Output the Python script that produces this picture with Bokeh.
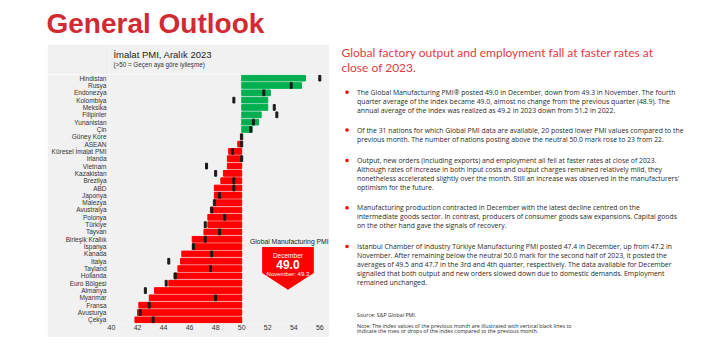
from bokeh.plotting import figure
from bokeh.models import Range1d, FixedTicker, Spacer, ColumnDataSource
from bokeh.layouts import column, row
from bokeh.embed import file_html
from bokeh.resources import INLINE
from bokeh.core.properties import value

# ---------------- data ----------------
countries = ["Hindistan", "Rusya", "Endonezya", "Kolombiya", "Meksika", "Filipinler",
             "Yunanistan", "Çin", "Güney Kore", "ASEAN", "Küresel İmalat PMI", "İrlanda",
             "Vietnam", "Kazakistan", "Brezilya", "ABD", "Japonya", "Malezya", "Avustralya",
             "Polonya", "Türkiye", "Tayvan", "Birleşik Krallık", "İspanya", "Kanada", "İtalya",
             "Tayland", "Hollanda", "Euro Bölgesi", "Almanya", "Myanmar", "Fransa",
             "Avusturya", "Çekya"]
pmi_dec_2023 = [54.9, 54.6, 52.2, 52.0, 52.0, 51.5, 51.3, 50.8, 49.9, 49.7, 49.0, 48.9,
                48.9, 48.6, 48.4, 47.9, 47.9, 47.9, 47.6, 47.4, 47.4, 47.1, 46.2, 46.2,
                45.4, 45.3, 45.1, 44.8, 44.4, 43.3, 42.9, 42.1, 42.0, 41.8]
pmi_nov_2023 = [56.0, 53.8, 51.7, 49.4, 52.5, 52.7, 50.9, 50.7, 50.0, 50.0, 49.3, 50.0,
                47.3, 48.0, 49.4, 49.4, 48.3, 47.9, 47.7, 48.7, 47.2, 48.3, 47.2, 46.3,
                47.7, 44.4, 47.6, 44.9, 44.2, 42.6, 48.0, 42.9, 42.2, 43.2]
x_ticks = [40, 42, 44, 46, 48, 50, 52, 54, 56]
neutral = 50.0
global_name = "Küresel İmalat PMI"

page_title = "General Outlook"
chart_title = "İmalat PMI, Aralık 2023"
chart_subtitle = "(>50 = Geçen aya göre iyileşme)"
heading_lines = ["Global factory output and employment fall at faster rates at",
                 "close of 2023."]
bullets = [
    ["The Global Manufacturing PMI® posted 49.0 in December, down from 49.3 in November. The fourth",
     "quarter average of the index became 49.0, almost no change from the previous quarter (48.9). The",
     "annual average of the index was realized as 49.2 in 2023 down from 51.2 in 2022."],
    ["Of the 31 nations for which Global PMI data are available, 20 posted lower PMI values compared to the",
     "previous month. The number of nations posting above the neutral 50.0 mark rose to 23 from 22."],
    ["Output, new orders (including exports) and employment all fell at faster rates at close of 2023.",
     "Although rates of increase in both input costs and output charges remained relatively mild, they",
     "nonetheless accelerated slightly over the month. Still an increase was observed in the manufacturers'",
     "optimism for the future."],
    ["Manufacturing production contracted in December with the latest decline centred on the",
     "intermediate goods sector. In contrast, producers of consumer goods saw expansions. Capital goods",
     "on the other hand gave the signals of recovery."],
    ["Istanbul Chamber of Industry Türkiye Manufacturing PMI posted 47.4 in December, up from 47.2 in",
     "November. After remaining below the neutral 50.0 mark for the second half of 2023, it posted the",
     "averages of 49.5 and 47.7 in the 3rd and 4th quarter, respectively. The data available for December",
     "signalled that both output and new orders slowed down due to domestic demands. Employment",
     "remained unchanged."],
]
source_text = "Source: S&P Global PMI."
note_lines = ["Note: The index values of the previous month are illustrated with vertical black lines to",
              "indicate the rises or drops of the index compared to the previous month."]

# ---------------- styles ----------------
PANEL = "#f1f1f1"
GREEN = "#00b050"
RED = "#ff0000"
TITLE_RED = "#d12b31"
HEAD_RED = "#e23a3f"
TXT = "#2a2a2a"
FONT = "Liberation Sans"
BODY_FONT = "Open Sans"


def text_fig(w, h, bg):
    f = figure(width=w, height=h, x_range=Range1d(0, w), y_range=Range1d(h, 0),
               x_axis_type=None, y_axis_type=None, output_backend="svg",
               toolbar_location=None, min_border=0)
    f.outline_line_color = None
    f.background_fill_color = bg
    f.border_fill_color = bg
    f.grid.visible = False
    return f


# ---------------- top title ----------------
top = text_fig(720, 44, "white")
top.text(x=[46], y=[23], text=[page_title], text_font=value(FONT), text_font_size="28px",
         text_font_style="bold", text_color=TITLE_RED, text_baseline="middle")

# ---------------- chart header ----------------
head = text_fig(282, 30, PANEL)
head.text(x=[5], y=[9.5], text=[chart_title], text_font=value(FONT), text_font_size="9.5px",
          text_color="#222222", text_baseline="middle")
head.text(x=[5], y=[20], text=[chart_subtitle], text_font=value(FONT), text_font_size="6.3px",
          text_color="#333333", text_baseline="middle")

# ---------------- chart ----------------
n = len(countries)
idx = list(range(n))
src = ColumnDataSource(dict(
    y=idx, name=countries, dec=pmi_dec_2023, nov=pmi_nov_2023,
    base=[neutral] * n,
    color=[GREEN if v > neutral else RED for v in pmi_dec_2023],
))

px_per_unit = 13.02
x0 = 40 - 2 / px_per_unit
chart = figure(width=282, height=263,
               x_range=Range1d(x0, x0 + 220 / px_per_unit),
               y_range=Range1d(n - 0.5, -0.5),
               output_backend="svg", toolbar_location=None,
               min_border_left=62, min_border_right=0, min_border_top=0, min_border_bottom=14)
chart.outline_line_color = None
chart.background_fill_color = PANEL
chart.border_fill_color = PANEL
chart.grid.visible = False

chart.hbar(y="y", left="base", right="dec", height=0.78, color="color", source=src)
chart.rect(x="nov", y="y", width=2, width_units="screen", height=0.78,
           color="#1a1a1a", source=src)

chart.xaxis.ticker = FixedTicker(ticks=x_ticks)
chart.yaxis.ticker = FixedTicker(ticks=idx)
chart.yaxis.major_label_overrides = {i: c for i, c in enumerate(countries)}
for ax in (chart.xaxis, chart.yaxis):
    ax.axis_line_color = None
    ax.major_tick_line_color = None
    ax.minor_tick_line_color = None
    ax.major_tick_out = 0
    ax.major_tick_in = 0
    ax.major_label_text_font = FONT
    ax.major_label_text_color = "#333333"
chart.yaxis.major_label_text_font_size = "6.5px"
chart.yaxis.major_label_standoff = 3
chart.xaxis.major_label_text_font_size = "7px"
chart.xaxis.major_label_standoff = 1

# callout for the global PMI
g = countries.index(global_name)
cx = 53.55
chart.patch(x=[51.57, 55.54, 55.54, cx, 51.57], y=[23.04, 23.04, 26.6, 28.9, 26.6],
            color=RED, line_color=None)
chart.text(x=[53.66], y=[22.35], text=["Global Manufacturing PMI"], text_font=value(FONT),
           text_font_size="6.8px", text_color="#222222", text_align="center", text_baseline="middle")
chart.text(x=[cx], y=[24.15], text=["December"], text_font=value(FONT), text_font_size="6.5px",
           text_color="white", text_align="center", text_baseline="middle")
chart.text(x=[cx], y=[25.45], text=[f"{pmi_dec_2023[g]:.1f}"], text_font=value(FONT),
           text_font_size="12px", text_font_style="bold", text_color="white",
           text_align="center", text_baseline="middle")
chart.text(x=[cx], y=[26.75], text=[f"November: {pmi_nov_2023[g]:.1f}"], text_font=value(FONT),
           text_font_size="6px", text_color="white", text_align="center", text_baseline="middle")

# ---------------- right text ----------------
right = text_fig(391, 306, "white")
right.text(x=[12, 12], y=[7.7, 22.7], text=heading_lines, text_font=value("Lato"),
           text_font_size="12px", text_color=HEAD_RED, text_baseline="middle")

bullet_tops = [91.7, 129.5, 160.0, 207.3, 246.0]
line_gap = 9.0
bx, by, tx, ty, tt = [], [], [], [], []
for top_y, lines in zip(bullet_tops, bullets):
    bx.append(17.5)
    by.append(top_y - 44)
    for k, ln in enumerate(lines):
        tx.append(27.5)
        ty.append(top_y - 44 + k * line_gap)
        tt.append(ln)
right.rect(x=bx, y=by, width=2.2, height=2.2, color=RED)
right.text(x=tx, y=ty, text=tt, text_font=value(BODY_FONT), text_font_size="6.85px",
           text_color=TXT, text_baseline="middle")
right.text(x=[27.5], y=[314.3 - 44], text=[source_text], text_font=value(BODY_FONT),
           text_font_size="5.3px", text_color=TXT, text_baseline="middle")
right.text(x=[27.5, 27.5], y=[325 - 44, 330.8 - 44], text=note_lines, text_font=value(BODY_FONT),
           text_font_size="5.35px", text_color=TXT, text_baseline="middle")

layout = column(
    top,
    row(Spacer(width=47, height=306),
        column(head, chart, Spacer(width=282, height=13)),
        right),
)

open("out.html", "w").write(file_html(layout, INLINE))
